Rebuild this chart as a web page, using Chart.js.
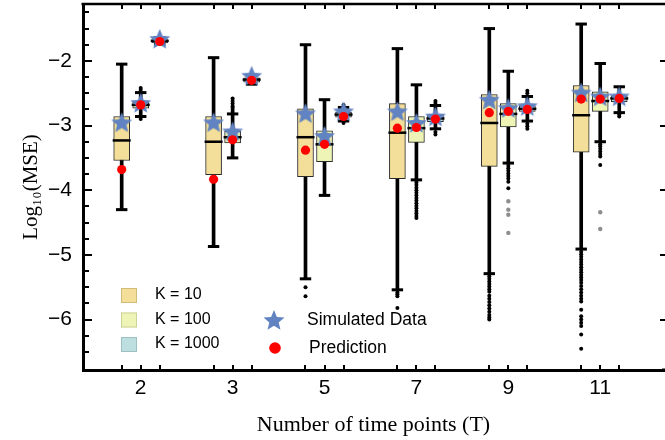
<!DOCTYPE html>
<html>
<head>
<meta charset="utf-8">
<script src="https://cdn.jsdelivr.net/npm/chart.js@4/dist/chart.umd.min.js"></script>
<style>
html,body{margin:0;padding:0;background:#fff;}
#wrap{width:665px;height:440px;}
</style>
</head>
<body>
<div id="wrap"><canvas id="c" width="665" height="440"></canvas></div>
<script>
// ---------- data ----------
const categories = ['2', '3', '5', '7', '9', '11'];
const seriesLabels = ['K = 10', 'K = 100', 'K = 1000'];
const markerLabels = ['Simulated Data', 'Prediction'];
const yMajorTicks = [-6, -5, -4, -3, -2];
const yMinorTicks = [-6.5, -6.25, -5.75, -5.5, -5.25, -4.75, -4.5, -4.25, -3.75, -3.5, -3.25, -2.75, -2.5, -2.25, -1.75, -1.5, -1.25];

// K = 10
const k10Low    = [-4.30, -4.87, -5.37, -5.54, -5.29, -4.91];
const k10Q1     = [-3.54, -3.76, -3.79, -3.82, -3.63, -3.41];
const k10Median = [-3.23, -3.25, -3.18, -3.11, -2.96, -2.84];
const k10Q3     = [-2.86, -2.86, -2.74, -2.66, -2.52, -2.38];
const k10High   = [-2.05, -1.95, -1.75, -1.81, -1.50, -1.43];
const k10Sim    = [-2.95, -2.95, -2.81, -2.78, -2.60, -2.49];
const k10Pred   = [-3.68, -3.83, -3.38, -3.04, -2.80, -2.59];
const k10Outliers = [
  [], [], [-5.50, -5.64],
  [-5.58, -5.61, -5.64, -5.82],
  [-5.33, -5.37, -5.41, -5.45, -5.49, -5.53, -5.57, -5.63, -5.68, -5.73, -5.78, -5.83, -5.88, -5.93, -5.97, -6.00],
  [-4.95, -4.99, -5.03, -5.07, -5.11, -5.15, -5.19, -5.23, -5.27, -5.31, -5.35, -5.39, -5.43, -5.48, -5.53, -5.58, -5.63, -5.68, -5.72, -5.85, -5.95, -6.00, -6.05, -6.10, -6.23, -6.45]
];
const k10GrayOutliers = [[], [], [], [], [], []];

// K = 100
const k100Low    = [-2.86, -3.50, -4.08, -3.84, -3.58, -3.25];
const k100Q1     = [-2.73, -3.27, -3.56, -3.26, -3.02, -2.78];
const k100Median = [-2.68, -3.18, -3.29, -3.04, -2.82, -2.62];
const k100Q3     = [-2.64, -3.09, -3.08, -2.86, -2.66, -2.48];
const k100High   = [-2.49, -2.82, -2.60, -2.37, -2.16, -2.04];
const k100Sim    = [-2.65, -3.09, -3.16, -2.96, -2.73, -2.55];
const k100Pred   = [-2.68, -3.22, -3.29, -3.03, -2.78, -2.59];
const k100Outliers = [
  [-2.42, -2.45, -2.90],
  [-2.58, -2.62, -2.66, -2.70, -2.73, -2.76, -2.79],
  [],
  [-3.88, -3.92, -3.96, -4.00, -4.04, -4.08, -4.12, -4.16, -4.20, -4.24, -4.28, -4.32, -4.36, -4.40, -4.43],
  [-3.62, -3.66, -3.70, -3.74, -3.78, -3.82, -3.87, -3.97],
  [-3.29, -3.32, -3.36, -3.40, -3.44, -3.48, -3.61]
];
const k100GrayOutliers = [[], [], [], [], [-4.17, -4.30, -4.38, -4.66], [-4.34, -4.60]];

// K = 1000
const k1000Low    = [-1.74, -2.36, -2.93, -3.05, -2.93, -2.80];
const k1000Q1     = [-1.72, -2.33, -2.87, -2.94, -2.78, -2.63];
const k1000Median = [-1.69, -2.29, -2.83, -2.89, -2.74, -2.58];
const k1000Q3     = [-1.67, -2.26, -2.79, -2.83, -2.69, -2.54];
const k1000High   = [-1.64, -2.22, -2.72, -2.69, -2.55, -2.40];
const k1000Sim    = [-1.66, -2.23, -2.78, -2.86, -2.70, -2.55];
const k1000Pred   = [-1.70, -2.30, -2.86, -2.90, -2.75, -2.58];
const k1000Outliers = [[], [], [-2.68, -2.96], [-2.62, -2.65, -3.10, -3.14], [-2.46, -2.50, -2.97, -3.01, -3.05], [-2.83, -2.86]];
const k1000GrayOutliers = [[], [], [], [], [], []];

// ---------- styling / building ----------
const groups = [
  {low:k10Low, q1:k10Q1, med:k10Median, q3:k10Q3, high:k10High, sim:k10Sim, pred:k10Pred, out:k10Outliers, gray:k10GrayOutliers},
  {low:k100Low, q1:k100Q1, med:k100Median, q3:k100Q3, high:k100High, sim:k100Sim, pred:k100Pred, out:k100Outliers, gray:k100GrayOutliers},
  {low:k1000Low, q1:k1000Q1, med:k1000Median, q3:k1000Q3, high:k1000High, sim:k1000Sim, pred:k1000Pred, out:k1000Outliers, gray:k1000GrayOutliers}
];
const fills = ['#F3DF99', '#EEF4B5', '#BDDFE0'];
const legendBorders = ['#D2BC78', '#CCD39A', '#9CC0C4'];
const offsets = [-0.207, 0, 0.207];
const STAR_COLOR = '#6283C2';

function makeStar(R, color) {
  const c = document.createElement('canvas');
  const size = Math.ceil(R * 2 + 2);
  c.width = size; c.height = size;
  const g = c.getContext('2d');
  const cx = size / 2, cy = size / 2 + R * 0.08;
  const r = R * 0.45;
  g.beginPath();
  for (let k = 0; k < 10; k++) {
    const a = -Math.PI / 2 + k * Math.PI / 5;
    const rad = (k % 2 === 0) ? R : r;
    g.lineTo(cx + rad * Math.cos(a), cy + rad * Math.sin(a));
  }
  g.closePath();
  g.fillStyle = color;
  g.fill();
  return c;
}
const starImg = makeStar(11, STAR_COLOR);

const datasets = [];
groups.forEach((g, k) => {
  const pos = i => i + 1 + offsets[k];
  datasets.push({
    type: 'bar', label: seriesLabels[k] + ' whisker',
    data: categories.map((c, i) => ({x: pos(i), y: [g.low[i], g.high[i]]})),
    backgroundColor: '#000', borderWidth: 0, grouped: false,
    barThickness: 3, maxBarThickness: 3, order: 10
  });
  datasets.push({
    type: 'bar', label: seriesLabels[k],
    data: categories.map((c, i) => ({x: pos(i), y: [g.q1[i], g.q3[i]]})),
    backgroundColor: fills[k], borderColor: '#2a2a2a', borderWidth: 1, borderSkipped: false,
    grouped: false, barThickness: 16, maxBarThickness: 16, order: 9
  });
  datasets.push({
    type: 'scatter', label: seriesLabels[k] + ' caps',
    data: categories.flatMap((c, i) => [{x: pos(i), y: g.low[i]}, {x: pos(i), y: g.high[i]}]),
    pointStyle: 'line', pointRadius: 5.7, pointBorderWidth: 3, pointBorderColor: '#000', order: 8
  });
  datasets.push({
    type: 'scatter', label: seriesLabels[k] + ' median',
    data: categories.map((c, i) => ({x: pos(i), y: g.med[i]})),
    pointStyle: 'line', pointRadius: 9, pointBorderWidth: 2.5, pointBorderColor: '#000', order: 7
  });
  datasets.push({
    type: 'scatter', label: seriesLabels[k] + ' outliers',
    data: categories.flatMap((c, i) => g.out[i].map(v => ({x: pos(i), y: v}))),
    pointStyle: 'circle', pointRadius: 2, pointBorderWidth: 0, pointBackgroundColor: '#000', order: 6
  });
  datasets.push({
    type: 'scatter', label: seriesLabels[k] + ' far outliers',
    data: categories.flatMap((c, i) => g.gray[i].map(v => ({x: pos(i), y: v}))),
    pointStyle: 'circle', pointRadius: 2.2, pointBorderWidth: 0, pointBackgroundColor: '#8e8e8e', order: 6
  });
  datasets.push({
    type: 'scatter', label: markerLabels[0],
    data: categories.map((c, i) => ({x: pos(i), y: g.sim[i]})),
    pointStyle: starImg, order: 2
  });
  datasets.push({
    type: 'scatter', label: markerLabels[1],
    data: categories.map((c, i) => ({x: pos(i), y: g.pred[i]})),
    pointStyle: 'circle', pointRadius: 4.6, pointBorderWidth: 0, pointBackgroundColor: '#FF0000', order: 1
  });
});

const framePlugin = {
  id: 'frame',
  afterDraw(chart) {
    const {ctx, chartArea: {left, right, top, bottom}, scales: {x, y}} = chart;
    ctx.save();
    ctx.strokeStyle = '#000';
    ctx.lineWidth = 2;
    // y ticks (inward)
    y.ticks.forEach(t => {
      const py = Math.round(y.getPixelForValue(t.value));
      const major = yMajorTicks.includes(t.value);
      ctx.beginPath(); ctx.moveTo(left, py); ctx.lineTo(left + (major ? 9 : 6), py); ctx.stroke();
      if (major) { ctx.beginPath(); ctx.moveTo(chart.width - 5, py); ctx.lineTo(chart.width, py); ctx.stroke(); }
    });
    // x ticks at box positions, top and bottom
    categories.forEach((c, i) => offsets.forEach(o => {
      const px = Math.round(x.getPixelForValue(i + 1 + o));
      ctx.beginPath(); ctx.moveTo(px, bottom); ctx.lineTo(px, bottom - 5); ctx.stroke();
      ctx.beginPath(); ctx.moveTo(px, top); ctx.lineTo(px, top + 5); ctx.stroke();
    }));
    // top frame line and bottom extension
    ctx.lineWidth = 2.5;
    ctx.beginPath(); ctx.moveTo(left - 1.5, top); ctx.lineTo(chart.width, top); ctx.stroke();
    ctx.lineWidth = 3;
    ctx.beginPath(); ctx.moveTo(right - 2, bottom); ctx.lineTo(chart.width, bottom); ctx.stroke();

    // legend: K boxes
    ctx.font = '16px "Liberation Sans", Arial, sans-serif';
    ctx.textBaseline = 'middle';
    ctx.textAlign = 'left';
    ctx.fillStyle = '#000';
    const lx = 121, ly = [288, 312.5, 337];
    seriesLabels.forEach((lab, k) => {
      ctx.fillStyle = fills[k];
      ctx.fillRect(lx, ly[k], 16, 15);
      ctx.lineWidth = 1;
      ctx.strokeStyle = legendBorders[k];
      ctx.strokeRect(lx + 0.5, ly[k] + 0.5, 15, 14);
      ctx.fillStyle = '#000';
      ctx.fillText(lab, 155, ly[k] + 7);
    });
    // legend: markers
    ctx.font = '17.5px "Liberation Sans", Arial, sans-serif';
    ctx.drawImage(starImg, 274 - starImg.width / 2, 320 - starImg.height / 2);
    ctx.fillText(markerLabels[0], 307, 320);
    ctx.beginPath(); ctx.arc(275, 348, 5.8, 0, Math.PI * 2); ctx.fillStyle = '#FF0000'; ctx.fill();
    ctx.fillStyle = '#000';
    ctx.fillText(markerLabels[1], 309, 348);
    ctx.restore();
  }
};

new Chart(document.getElementById('c'), {
  type: 'bar',
  data: {datasets},
  options: {
    responsive: false,
    animation: false,
    devicePixelRatio: 1,
    layout: {autoPadding: false, padding: {top: 4, right: 1, left: 0, bottom: 0}},
    plugins: {legend: {display: false}, tooltip: {enabled: false}},
    scales: {
      x: {
        type: 'linear', min: 0.372, max: 6.694, offset: false,
        afterBuildTicks: s => { s.ticks = categories.map((c, i) => ({value: i + 1})); },
        afterFit: s => { s.height = 70; s.paddingLeft = 0; s.paddingRight = 0; },
        grid: {display: false},
        border: {display: true, width: 3, color: '#000'},
        ticks: {
          autoSkip: false, maxRotation: 0, padding: -2, color: '#000',
          font: {family: '"Liberation Sans", Arial, sans-serif', size: 21},
          callback: (v, i) => categories[i]
        },
        title: {
          display: true, text: 'Number of time points (T)', color: '#000',
          font: {family: '"Liberation Serif", "Times New Roman", serif', size: 22},
          padding: {top: 0, bottom: 2}
        }
      },
      y: {
        type: 'linear', min: -6.78, max: -1.12, beginAtZero: false,
        afterBuildTicks: s => { s.ticks = yMinorTicks.concat(yMajorTicks).sort((a, b) => a - b).map(v => ({value: v})); },
        afterFit: s => { s.width = 83; s.paddingTop = 0; s.paddingBottom = 0; },
        grid: {display: false},
        border: {display: true, width: 3, color: '#000'},
        ticks: {
          autoSkip: false, padding: 3, color: '#000',
          font: {family: '"Liberation Sans", Arial, sans-serif', size: 21},
          callback: v => yMajorTicks.includes(v) ? '\u2212' + Math.abs(v) : ''
        },
        title: {
          display: true, text: 'Log\u2081\u2080(MSE)', color: '#000',
          font: {family: '"Liberation Serif", "Times New Roman", serif', size: 21},
          padding: {top: 19, bottom: 0}
        }
      }
    }
  },
  plugins: [framePlugin]
});
</script>
</body>
</html>
